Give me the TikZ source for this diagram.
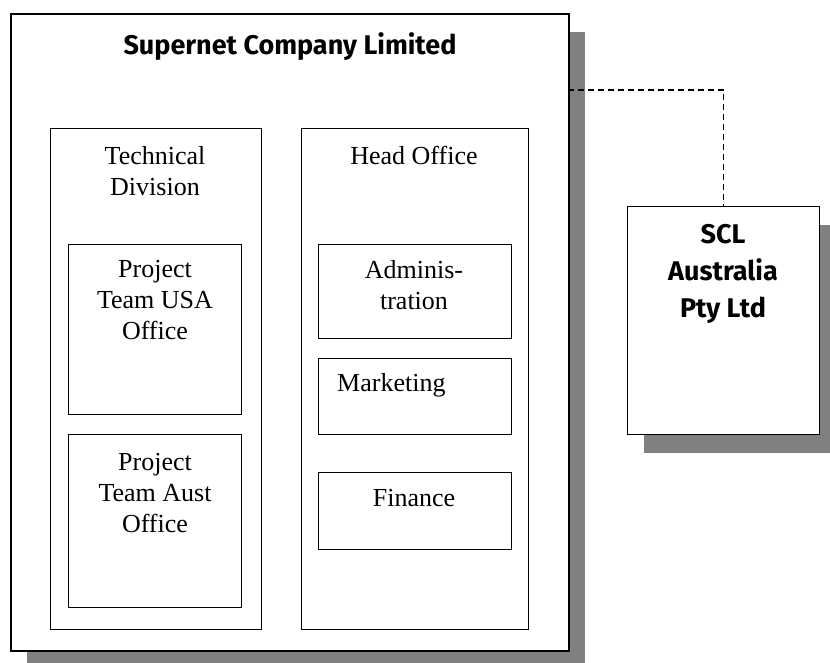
\documentclass[tikz,border=0pt]{standalone}
\usepackage{fontspec}
\setmainfont{Liberation Serif}
\newfontfamily\comicfont{Fira Sans}
\usetikzlibrary{positioning,shadows}

\tikzset{
  box/.style={draw, line width=1.2pt, fill=white, anchor=north west, inner sep=0pt},
  shadowed/.style={drop shadow={shadow xshift=16pt, shadow yshift=-18pt, fill=black!50, opacity=1}},
  lbl/.style={font=\fontsize{26}{31}\selectfont, align=center, inner sep=0pt},
  heading/.style={font=\comicfont\bfseries\fontsize{27}{37}\selectfont, align=center, inner sep=0pt},
  link/.style={dash pattern=on 6pt off 4pt, line width=1.2pt}
}

\begin{document}
\begin{tikzpicture}[x=1pt,y=-1pt]
    \useasboundingbox (0,0) rectangle (830,662);

    % the company and its two divisions
    \node[box, shadowed, line width=1.6pt, minimum width=558pt, minimum height=637pt] (company) at (10,13) {};
    \node[heading] (companylbl) at (290,47) {Supernet Company Limited};

    \node[box, minimum width=211pt, minimum height=501pt] (tech) at (50,128) {};
    \node[lbl] (techlbl) at (155,171) {Technical\\Division};
    \node[box, minimum width=227pt, minimum height=501pt] (head) at (301,128) {};
    \node[lbl] (headlbl) at (414,155) {Head Office};

    % project teams
    \node[box, minimum width=173pt, minimum height=170pt] (usa) at (68,244) {};
    \node[lbl] (usalbl) at (155,300) {Project\\Team USA\\Office};
    \node[box, minimum width=173pt, minimum height=173pt] (aust) at (68,434) {};
    \node[lbl] (austlbl) at (155,493) {Project\\Team Aust\\Office};

    % head office units
    \node[box, minimum width=193pt, minimum height=94pt] (admin) at (318,244) {};
    \node[lbl] (adminlbl) at (414,285) {Adminis-\\tration};
    \node[box, minimum width=193pt, minimum height=76pt] (mkt) at (318,358) {};
    \node[lbl, anchor=west] (mktlbl) at (337,385) {Marketing};
    \node[box, minimum width=193pt, minimum height=77pt] (fin) at (318,472) {};
    \node[lbl] (finlbl) at (414,498) {Finance};

    % subsidiary
    \node[box, shadowed, minimum width=192pt, minimum height=228pt] (scl) at (627,206) {};
    \node[heading] (scllbl) at (723,274) {SCL\\Australia\\Pty Ltd};

    \coordinate (tap) at (568,90);
    \draw[link] (tap) -| (scl.north);
\end{tikzpicture}
\end{document}
